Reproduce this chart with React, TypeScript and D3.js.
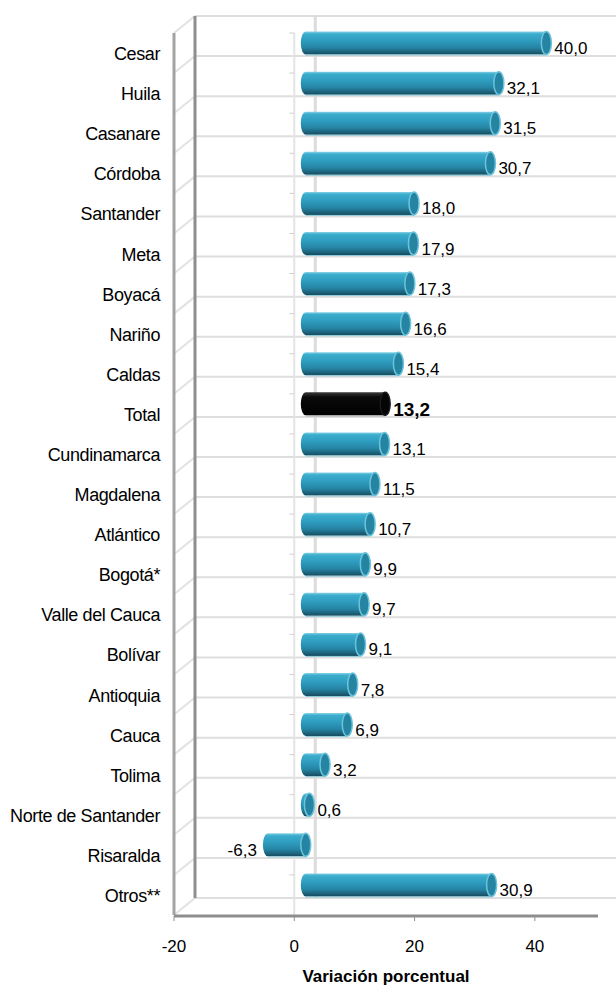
import React from "react";
import * as d3 from "d3";

const regions = [
  "Cesar", "Huila", "Casanare", "Córdoba", "Santander", "Meta", "Boyacá", "Nariño",
  "Caldas", "Total", "Cundinamarca", "Magdalena", "Atlántico", "Bogotá*", "Valle del Cauca",
  "Bolívar", "Antioquia", "Cauca", "Tolima", "Norte de Santander", "Risaralda", "Otros**",
];
const variation = [
  40.0, 32.1, 31.5, 30.7, 18.0, 17.9, 17.3, 16.6, 15.4, 13.2, 13.1, 11.5, 10.7, 9.9, 9.7,
  9.1, 7.8, 6.9, 3.2, 0.6, -6.3, 30.9,
];
const xTicks = [-20, 0, 20, 40];

const W = 616;
const H = 987;
const DX = 21; // depth offset of the 3D box
const DY = -17;
const FONT = "'Liberation Sans', Arial, sans-serif";

export default function App() {
  // SCALES
  const x = d3.scaleLinear().domain([-20, 50.5]).range([174, 598]);
  const yFront = d3.scaleBand().domain(regions).range([33, 915]);
  const step = yFront.step();
  const backLines = d3.range(regions.length + 1).map((i) => 33 + DY + i * step);

  const fmt = (v: number) => d3.format(".1f")(v).replace(".", ",").replace("\u2212", "-");
  const rx = 5;
  const ry = 11.5;

  return (
    <div style={{ position: "absolute", left: 0, top: 0 }}>
      <svg width={W} height={H} style={{ display: "block", fontFamily: FONT }}>
        <defs>
          <linearGradient id="cyl" x1="0" y1="0" x2="0" y2="1">
            <stop offset="0" stopColor="#86d2e6" />
            <stop offset="0.1" stopColor="#3cadcd" />
            <stop offset="0.4" stopColor="#2e9cbf" />
            <stop offset="0.7" stopColor="#2684a3" />
            <stop offset="0.9" stopColor="#1b5f77" />
            <stop offset="1" stopColor="#164c5e" />
          </linearGradient>
          <linearGradient id="cylTotal" x1="0" y1="0" x2="0" y2="1">
            <stop offset="0" stopColor="#3a3a3a" />
            <stop offset="0.2" stopColor="#0a0a0a" />
            <stop offset="1" stopColor="#000" />
          </linearGradient>
        </defs>

        {/* BACK WALL GRID */}
        {backLines.map((y, i) => (
          <line key={"bg" + i} x1={x(-20) + DX} x2={W} y1={y} y2={y} stroke="#dedede" strokeWidth={2} />
        ))}
        <line x1={x(0) + DX} x2={x(0) + DX} y1={backLines[0]} y2={backLines[regions.length]} stroke="#dcdcdc" strokeWidth={3} />

        {/* LEFT SIDE WALL */}
        {backLines.map((y, i) => (
          <line key={"dg" + i} x1={x(-20)} y1={y - DY} x2={x(-20) + DX} y2={y} stroke="#e2e2e2" strokeWidth={2} />
        ))}
        <line x1={x(-20) + DX} x2={x(-20) + DX} y1={backLines[0]} y2={backLines[regions.length]} stroke="#8e8e8e" strokeWidth={3} />
        <line x1={x(-20)} x2={x(-20)} y1={33} y2={915} stroke="#a3a3a3" strokeWidth={3} />

        {/* FRONT ZERO LINE + CATEGORY TICKS */}
        <line x1={x(0)} x2={x(0)} y1={33} y2={915} stroke="#e4e4e4" strokeWidth={2} />
        {regions.map((r) => (
          <line key={"ct" + r} x1={x(0) - 5} x2={x(0)} y1={yFront(r)!} y2={yFront(r)!} stroke="#d0d0d0" strokeWidth={1} />
        ))}

        {/* X AXIS */}
        <line x1={x(-20)} x2={598} y1={916} y2={916} stroke="#8e8e8e" strokeWidth={3} />
        {xTicks.map((t) => (
          <g key={"xt" + t}>
            <line x1={x(t)} x2={x(t)} y1={916} y2={921} stroke="#8e8e8e" strokeWidth={1} />
            <text x={x(t)} y={952} textAnchor="middle" fontSize={17} fill="#000">
              {t}
            </text>
          </g>
        ))}
        <text x={(174 + 598) / 2} y={982} textAnchor="middle" fontSize={17} fontWeight="bold" fill="#000">
          Variación porcentual
        </text>

        {/* CATEGORY LABELS */}
        {regions.map((r) => (
          <text
            key={"cl" + r}
            x={160}
            y={yFront(r)! + step / 2 + 7}
            textAnchor="end"
            fontSize={18}
            letterSpacing={-0.4}
            fill="#000"
          >
            {r}
          </text>
        ))}

        {/* BARS (cylinders at mid depth) */}
        {regions.map((r, i) => {
          const v = variation[i];
          const isTotal = r === "Total";
          const cy = yFront(r)! + step / 2 - 10;
          const xl = Math.min(x(0), x(v)) + DX / 2 + 1;
          const xr = Math.max(x(0), x(v)) + DX / 2 + 1;
          const d = `M${xr},${cy - ry} L${xl},${cy - ry} A${rx},${ry} 0 0 0 ${xl},${cy + ry} L${xr},${cy + ry} Z`;
          return (
            <g key={"b" + r}>
              <path d={d} fill={isTotal ? "url(#cylTotal)" : "url(#cyl)"} />
              <line x1={xl} x2={xr} y1={cy + ry + 0.5} y2={cy + ry + 0.5} stroke={isTotal ? "#9a9a9a" : "#8cc9d8"} strokeWidth={1} />
              <ellipse
                cx={xr}
                cy={cy}
                rx={rx}
                ry={ry}
                fill={isTotal ? "#050505" : "#2684a3"}
                stroke={isTotal ? "#1a1a1a" : "#6cc4dc"}
                strokeWidth={1.5}
              />
              <text
                x={v >= 0 ? xr + rx + 3 : xl - rx - 6}
                y={cy + (isTotal ? 12 : 11)}
                textAnchor={v >= 0 ? "start" : "end"}
                fontSize={isTotal ? 19 : 17}
                fontWeight={isTotal ? "bold" : "normal"}
                fill="#000"
              >
                {fmt(v)}
              </text>
            </g>
          );
        })}
      </svg>
    </div>
  );
}
